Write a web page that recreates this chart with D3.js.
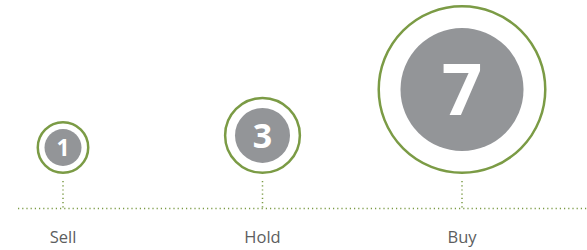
<!DOCTYPE html>
<html lang="en">
<head>
<meta charset="utf-8">
<title>Analyst ratings</title>
<script src="https://d3js.org/d3.v7.min.js"></script>
<style>
body { margin: 0; background: #fff; }
svg { display: block; }
.label { font-family: "Open Sans", sans-serif; font-size: 16.5px; fill: #5d5e60; }
.count { font-family: "Open Sans", sans-serif; font-weight: bold; fill: #fff; }
</style>
</head>
<body>
<div id="chart"></div>
<script>
// data
var ratings = ["Sell", "Hold", "Buy"];
var counts = [1, 3, 7];

var width = 587, height = 250;
var baseY = 208.5;   // dotted baseline
var ringBottom = 174; // circles sit on this line

var svg = d3.select("#chart")
  .append("svg")
  .attr("width", width)
  .attr("height", height);

var x = d3.scalePoint()
  .domain(ratings)
  .range([63, 462]);

// inner grey disc radius for each count
var r = d3.scaleLinear()
  .domain([1, 3, 7])
  .range([18.5, 27.5, 61.5]);

function outerR(v) { return r(v) * 1.35 + 1.5; }

var green = "#7b9b45";

// horizontal dotted line
svg.append("line")
  .attr("x1", 18).attr("x2", width)
  .attr("y1", baseY).attr("y2", baseY)
  .style("stroke", green)
  .style("stroke-width", 1.5)
  .style("stroke-dasharray", "1.2,3");

var g = svg.selectAll(".rating")
  .data(ratings)
  .enter()
  .append("g")
  .attr("class", "rating")
  .attr("transform", function(d) { return "translate(" + x(d) + ",0)"; });

// vertical dotted connectors
g.append("line")
  .attr("x1", 0).attr("x2", 0)
  .attr("y1", 181).attr("y2", baseY)
  .style("stroke", green)
  .style("stroke-width", 1.5)
  .style("stroke-dasharray", "1.2,3");

// outer ring
g.append("circle")
  .attr("cy", function(d, i) { return ringBottom - outerR(counts[i]); })
  .attr("r", function(d, i) { return outerR(counts[i]) - 1.25; })
  .style("fill", "#fff")
  .style("stroke", green)
  .style("stroke-width", 2.5);

// grey disc
g.append("circle")
  .attr("cy", function(d, i) { return ringBottom - outerR(counts[i]); })
  .attr("r", function(d, i) { return r(counts[i]); })
  .style("fill", "#939598");

// number
g.append("text")
  .attr("class", "count")
  .attr("y", function(d, i) { return ringBottom - outerR(counts[i]); })
  .attr("dy", "0.36em")
  .attr("text-anchor", "middle")
  .style("font-size", function(d, i) { return Math.round(r(counts[i]) * 1.25 - (counts[i] > 5 ? 6 : 0)) + "px"; })
  .text(function(d, i) { return counts[i]; });

// label
g.append("text")
  .attr("class", "label")
  .attr("y", 243)
  .attr("text-anchor", "middle")
  .text(function(d) { return d; });
</script>
</body>
</html>
